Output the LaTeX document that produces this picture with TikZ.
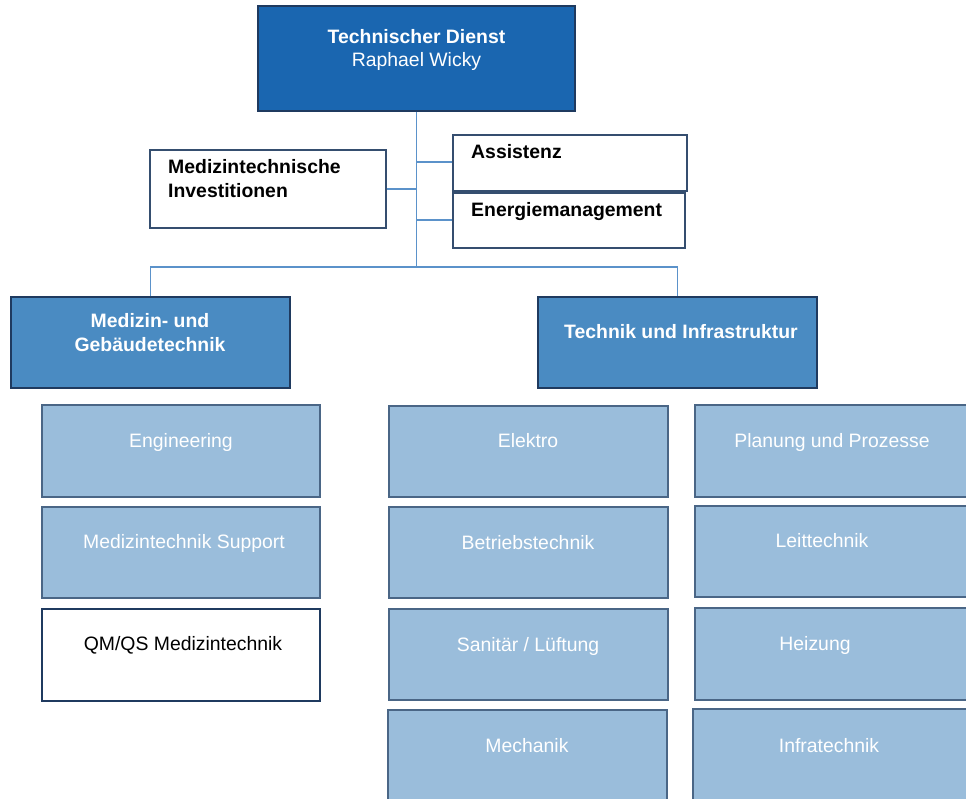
\documentclass[tikz,border=0pt]{standalone}
\usepackage{fontspec}
\setmainfont{Liberation Sans}
\definecolor{topblue}{HTML}{1A66B0}
\definecolor{midblue}{HTML}{4A8BC2}
\definecolor{lightblue}{HTML}{9ABDDB}
\definecolor{darkedge}{HTML}{1F3A5F}
\definecolor{subedge}{HTML}{4A6686}
\definecolor{linkblue}{HTML}{5B92CA}
\tikzset{
  x=1pt, y=-1pt,
  box/.style={rectangle, inner sep=0pt, line width=1.1pt},
  topbox/.style={box, fill=topblue, draw=darkedge},
  whitebox/.style={box, fill=white, draw=darkedge!90},
  midbox/.style={box, fill=midblue, draw=darkedge},
  subbox/.style={box, fill=lightblue, draw=subedge},
  subwhite/.style={box, fill=white, draw=darkedge},
  txt/.style={inner sep=0pt, font=\fontsize{19.4}{24}\selectfont},
  btxt/.style={txt, font=\fontsize{19.4}{24}\selectfont\bfseries},
  link/.style={draw=linkblue, line width=1.1pt},
}
\newcommand{\boxat}[6]{% style, name, x1, y1, x2, y2
  \node[#1, minimum width={#5-#3}, minimum height={#6-#4}] (#2) at ({(#3+#5)/2},{(#4+#6)/2}) {};}
\begin{document}
\begin{tikzpicture}
\useasboundingbox (0,0) rectangle (966,799);
\fill[white] (0,0) rectangle (966,799);

% top
\boxat{topbox}{td}{258}{6}{575}{111}
\node[btxt, text=white, anchor=base] (tdA) at (416.5,43.5) {Technischer Dienst};
\node[txt, text=white, anchor=base] (tdB) at (416.5,67) {Raphael Wicky};

% staff boxes
\boxat{whitebox}{mi}{150}{150}{386}{228}
\node[btxt, align=left, anchor=west] (miT) at (168,179) {Medizintechnische\\Investitionen};
\boxat{whitebox}{as}{453}{135}{687}{191}
\node[btxt, anchor=base west] (asT) at (471,159) {Assistenz};
\boxat{whitebox}{em}{453}{193}{685}{248}
\node[btxt, anchor=base west] (emT) at (471,217) {Energiemanagement};

% main branches
\boxat{midbox}{mg}{11}{297}{290}{388}
\node[btxt, text=white, align=center] (mgT) at (150,333) {Medizin- und\\Gebäudetechnik};
\boxat{midbox}{ti}{538}{297}{817}{388}
\node[btxt, text=white, anchor=base] (tiT) at (681,338) {Technik und Infrastruktur};

% connectors
\coordinate (j) at (416.5,267);
\draw[link] (td.south) -- (j);
\draw[link] (mi.east) -- (mi.east -| td.south);
\draw[link] (as.west |- 0,162) -- (td.south |- 0,162);
\draw[link] (em.west |- 0,220) -- (td.south |- 0,220);
\draw[link] (mg.north) |- (j) -| (ti.north);

% left column
\boxat{subbox}{eng}{42}{405}{320}{497}
\node[txt, text=white, anchor=base] (engT) at (181,447) {Engineering};
\boxat{subbox}{mts}{42}{507}{320}{598}
\node[txt, text=white, anchor=base] (mtsT) at (184,548) {Medizintechnik Support};
\boxat{subwhite}{qm}{42}{609}{320}{701}
\node[txt, anchor=base] (qmT) at (183,650) {QM/QS Medizintechnik};

% middle column
\boxat{subbox}{el}{389}{406}{668}{497}
\node[txt, text=white, anchor=base] (elT) at (528,447) {Elektro};
\boxat{subbox}{bt}{389}{507}{668}{598}
\node[txt, text=white, anchor=base] (btT) at (528,549) {Betriebstechnik};
\boxat{subbox}{sl}{389}{609}{668}{700}
\node[txt, text=white, anchor=base] (slT) at (528,651) {Sanitär / Lüftung};
\boxat{subbox}{me}{388}{710}{667}{810}
\node[txt, text=white, anchor=base] (meT) at (527,752) {Mechanik};

% right column
\boxat{subbox}{pp}{695}{405}{995}{497}
\node[txt, text=white, anchor=base] (ppT) at (832,447) {Planung und Prozesse};
\boxat{subbox}{lt}{695}{506}{995}{597}
\node[txt, text=white, anchor=base] (ltT) at (822,547) {Leittechnik};
\boxat{subbox}{hz}{695}{608}{995}{700}
\node[txt, text=white, anchor=base] (hzT) at (815,650) {Heizung};
\boxat{subbox}{it}{693}{709}{995}{810}
\node[txt, text=white, anchor=base] (itT) at (829,752) {Infratechnik};
\end{tikzpicture}
\end{document}
